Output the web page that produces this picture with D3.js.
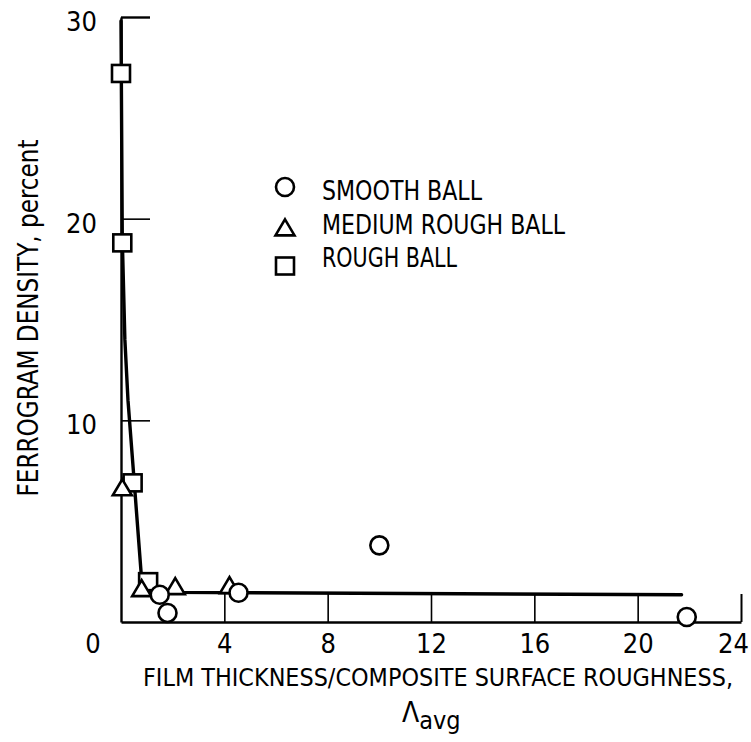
<!DOCTYPE html>
<html>
<head>
<meta charset="utf-8">
<script src="https://cdn.jsdelivr.net/npm/d3@7/dist/d3.min.js"></script>
<style>
  html, body { margin: 0; padding: 0; background: #fff; }
  svg { display: block; }
  text { font-family: "Liberation Sans Narrow", "DejaVu Sans Condensed", "Arial Narrow", sans-serif; fill: #000; }
</style>
</head>
<body>
<svg id="chart" width="751" height="742"></svg>
<script>
// ---- data ----
const smoothX = [1.5, 1.8, 4.55, 10.0, 21.9];
const smoothY = [1.35, 0.45, 1.45, 3.8, 0.25];
const mediumX = [0.05, 0.8, 2.1, 4.2];
const mediumY = [6.6, 1.6, 1.7, 1.75];
const roughX = [0.0, 0.05, 0.45, 1.05];
const roughY = [27.2, 18.8, 6.9, 2.0];
const fitX = [0.0, 0.05, 0.15, 0.27, 0.55, 0.81, 1.0, 2.0, 21.7];
const fitY = [29.8, 19.0, 14.0, 11.0, 6.3, 1.9, 1.55, 1.47, 1.35];
const xTicks = [4, 8, 12, 16, 20, 24];
const yTicks = [10, 20, 30];
const legendLabels = ["SMOOTH BALL", "MEDIUM ROUGH BALL", "ROUGH BALL"];
const xTitle = "FILM THICKNESS/COMPOSITE SURFACE ROUGHNESS,";
const yTitle = "FERROGRAM DENSITY,  percent";

// ---- layout ----
const svg = d3.select("#chart");
const x = d3.scaleLinear().domain([0, 24]).range([121, 741]);
const y = d3.scaleLinear().domain([0, 30]).range([622, 17]);
const FS = 27;

// axes
const xAxis = d3.axisBottom(x).tickValues(xTicks).tickSizeInner(-28).tickSizeOuter(0).tickPadding(12);
const yAxis = d3.axisLeft(y).tickValues(yTicks).tickSizeInner(-29).tickSizeOuter(0).tickPadding(24);

const gx = svg.append("g").attr("transform", `translate(0,${y(0)})`).call(xAxis);
const gy = svg.append("g").attr("transform", `translate(${x(0)},0)`).call(yAxis);

[gx, gy].forEach(g => {
  g.select(".domain").attr("stroke", "#000").attr("stroke-width", 2.4);
  g.selectAll(".tick line").attr("stroke", "#000").attr("stroke-width", 1.6);
  g.selectAll(".tick text").attr("font-size", FS).attr("font-family", null).attr("fill", "#000");
});
gy.selectAll(".tick line").filter(d => d === 30).attr("stroke-width", 2.4);
gy.selectAll(".tick text").attr("dy", "0.5em");
gx.selectAll(".tick line").filter(d => d === 24).attr("stroke-width", 2);
gx.selectAll(".tick text").filter(d => d === 24).attr("dx", -8);

// the shared zero label
svg.append("text")
  .attr("x", x(0) - 28).attr("y", y(0) + 12)
  .attr("dy", "0.71em").attr("text-anchor", "middle")
  .attr("font-size", FS).text("0");

// fitted curve
const fitPts = fitX.map((v, i) => [v, fitY[i]]);
svg.append("path")
  .datum(fitPts)
  .attr("fill", "none").attr("stroke", "#000").attr("stroke-width", 3.4)
  .attr("stroke-linejoin", "round").attr("stroke-linecap", "round")
  .attr("d", d3.line().x(d => x(d[0])).y(d => y(d[1])).curve(d3.curveLinear));

// marker helpers
function drawCircle(g, cx, cy) {
  g.append("circle").attr("cx", cx).attr("cy", cy).attr("r", 9)
    .attr("fill", "#fff").attr("stroke", "#000").attr("stroke-width", 2.6);
}
function drawTriangle(g, cx, cy) {
  const w = 19, h = 16;
  const p = d3.path();
  p.moveTo(cx, cy - h * 0.6); p.lineTo(cx + w / 2, cy + h * 0.4); p.lineTo(cx - w / 2, cy + h * 0.4); p.closePath();
  g.append("path").attr("d", p.toString())
    .attr("fill", "#fff").attr("stroke", "#000").attr("stroke-width", 2.6).attr("stroke-linejoin", "miter");
}
function drawSquare(g, cx, cy) {
  g.append("rect").attr("x", cx - 9).attr("y", cy - 8.5).attr("width", 18).attr("height", 17)
    .attr("fill", "#fff").attr("stroke", "#000").attr("stroke-width", 2.6);
}

const gm = svg.append("g");
roughX.forEach((v, i) => drawSquare(gm, x(v), y(roughY[i])));
mediumX.forEach((v, i) => drawTriangle(gm, x(v), y(mediumY[i])));
smoothX.forEach((v, i) => drawCircle(gm, x(v), y(smoothY[i])));

// legend
const lg = svg.append("g");
const legY = [191, 225, 258];
const legLen = [160, 243, 135];
drawCircle(lg, 285, 187);
drawTriangle(lg, 285, 229);
drawSquare(lg, 285, 266);
legendLabels.forEach((t, i) => {
  lg.append("text").attr("x", 322).attr("y", legY[i]).attr("dy", "0.35em")
    .attr("font-size", FS).attr("textLength", legLen[i]).attr("lengthAdjust", "spacingAndGlyphs").text(t);
});

// axis titles
svg.append("text")
  .attr("x", 438).attr("y", 686).attr("text-anchor", "middle")
  .attr("font-size", 24).attr("textLength", 590).attr("lengthAdjust", "spacingAndGlyphs")
  .text(xTitle);
const lam = svg.append("text").attr("x", 402).attr("y", 722).attr("font-size", 28);
lam.append("tspan").text("Λ");
lam.append("tspan").attr("font-size", 25).attr("dy", 7).text("avg");

svg.append("text")
  .attr("transform", "translate(38,318) rotate(-90)")
  .attr("text-anchor", "middle")
  .attr("font-size", 28).attr("textLength", 357).attr("lengthAdjust", "spacingAndGlyphs")
  .text(yTitle);
</script>
</body>
</html>
